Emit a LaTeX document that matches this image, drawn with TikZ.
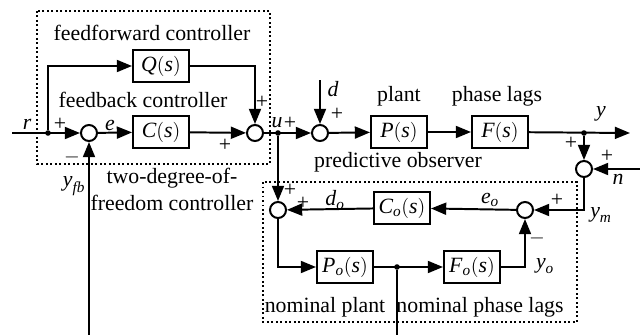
\documentclass[tikz,border=0pt]{standalone}
\usepackage{amsmath}
\usepackage{fontspec}
\setmainfont{Liberation Serif}
\usetikzlibrary{arrows.meta}

\tikzset{
  blk/.style={draw,line width=1.4pt,minimum width=1.4cm,minimum height=0.78cm,inner sep=1pt},
  sumc/.style={draw,circle,line width=1.4pt,minimum size=0.4cm,inner sep=0pt},
  sig/.style={line width=1.4pt,-{Triangle[length=0.38cm,width=0.3cm]}},
  wire/.style={line width=1.4pt},
  grp/.style={draw,dotted,line width=1.2pt},
  dot/.style={circle,fill,inner sep=1.4pt},
  lbl/.style={inner sep=0pt}
}
\newcommand{\vi}[1]{\textit{#1}}

\begin{document}
\begin{tikzpicture}[x=0.025cm,y=-0.025cm,font=\fontsize{15.5}{17}\selectfont]
\useasboundingbox (0,0) rectangle (640,335);
% groups
\draw[grp] (37,11) rectangle (270,164);
\draw[grp] (263,182) rectangle (577,322);

% blocks and sums
\node[sumc] (s1) at (89,133) {};
\node[sumc] (s2) at (255,133) {};
\node[sumc] (s3) at (320,133) {};
\node[sumc] (s4) at (584,169) {};
\node[sumc] (s5) at (278,210) {};
\node[sumc] (s6) at (525,210) {};
\node[blk] (Q) at (161,66) {$\vi{Q}(\vi{s})$};
\node[blk] (C) at (161,132) {$\vi{C}(\vi{s})$};
\node[blk] (P) at (399,132) {$\vi{P}(\vi{s})$};
\node[blk] (F) at (500,132) {$\vi{F}(\vi{s})$};
\node[blk] (Co) at (402,208) {$\vi{C}_{\vi{o}}(\vi{s})$};
\node[blk] (Po) at (345,267) {$\vi{P}_{\vi{o}}(\vi{s})$};
\node[blk] (Fo) at (472,267) {$\vi{F}_{\vi{o}}(\vi{s})$};
\node[dot] (rd) at (48,133) {};
\node[dot] (ud) at (278,133) {};
\node[dot] (yd) at (584,133) {};
\node[dot] (od) at (397,267) {};
\coordinate (rin) at (12,133);
\coordinate (din) at (320,80);
\coordinate (yout) at (630,133);
\coordinate (nin) at (640,169);
\coordinate (fb1) at (89,335);
\coordinate (fb2) at (397,335);

% signals
\draw[sig] (rin) -- (s1);
\draw[sig] (rd) |- (Q);
\draw[sig] (s1) -- (C);
\draw[sig] (C) -- (s2);
\draw[sig] (Q) -| (s2);
\draw[sig] (s2) -- (s3);
\draw[sig] (din) -- (s3);
\draw[sig] (s3) -- (P);
\draw[sig] (P) -- (F);
\draw[sig] (F) -- (yout);
\draw[sig] (yd) -- (s4);
\draw[sig] (nin) -- (s4);
\draw[sig] (s4) |- (s6);
\draw[sig] (s6) -- (Co);
\draw[sig] (Co) -- (s5);
\draw[sig] (ud) -- (s5);
\draw[sig] (s5) |- (Po);
\draw[sig] (Po) -- (Fo);
\draw[sig] (Fo) -| (s6);
\draw[wire] (od) -- (fb2);
\draw[sig] (fb1) -- (s1);

% texts
\node[lbl] (tff) at (152,33) {feedforward controller};
\node[lbl] (tfb) at (143,100) {feedback controller};
\node[lbl] (tdof) at (172,178) {two-degree-of-};
\node[lbl] (tdof2) at (172,203) {freedom controller};
\node[lbl] (tpl) at (399,96) {plant};
\node[lbl] (tpla) at (497,96) {phase lags};
\node[lbl] (tobs) at (398,162) {predictive observer};
\node[lbl] (tnp) at (325,307) {nominal plant};
\node[lbl] (tnpl) at (480,307) {nominal phase lags};
\node[lbl] (lr) at (27,124) {$\vi{r}$};
\node[lbl] (le) at (110,125) {$\vi{e}$};
\node[lbl] (lu) at (277,123) {$\vi{u}$};
\node[lbl] (ld) at (333,89) {$\vi{d}$};
\node[lbl] (ly) at (601,114) {$\vi{y}$};
\node[lbl] (ln) at (618,179) {$\vi{n}$};
\node[lbl] (lyfb) at (74,186) {$\vi{y}_{\vi{fb}}$};
\node[lbl] (ldo) at (335,200) {$\vi{d}_{\vi{o}}$};
\node[lbl] (leo) at (490,200) {$\vi{e}_{\vi{o}}$};
\node[lbl] (lym) at (601,215) {$\vi{y}_{\vi{m}}$};
\node[lbl] (lyo) at (545,266) {$\vi{y}_{\vi{o}}$};
\node[lbl] (p1) at (60,124) {+};
\node[lbl] (m1) at (72,157) {$-$};
\node[lbl] (p2) at (262,102) {+};
\node[lbl] (p3) at (225,145) {+};
\node[lbl] (p4) at (290,123) {+};
\node[lbl] (p5) at (337,114) {+};
\node[lbl] (p6) at (571,143) {+};
\node[lbl] (p7) at (607,156) {+};
\node[lbl] (p8) at (290,190) {+};
\node[lbl] (p9) at (303,203) {+};
\node[lbl] (p10) at (557,200) {+};
\node[lbl] (m2) at (537,238) {$-$};
\end{tikzpicture}
\end{document}
